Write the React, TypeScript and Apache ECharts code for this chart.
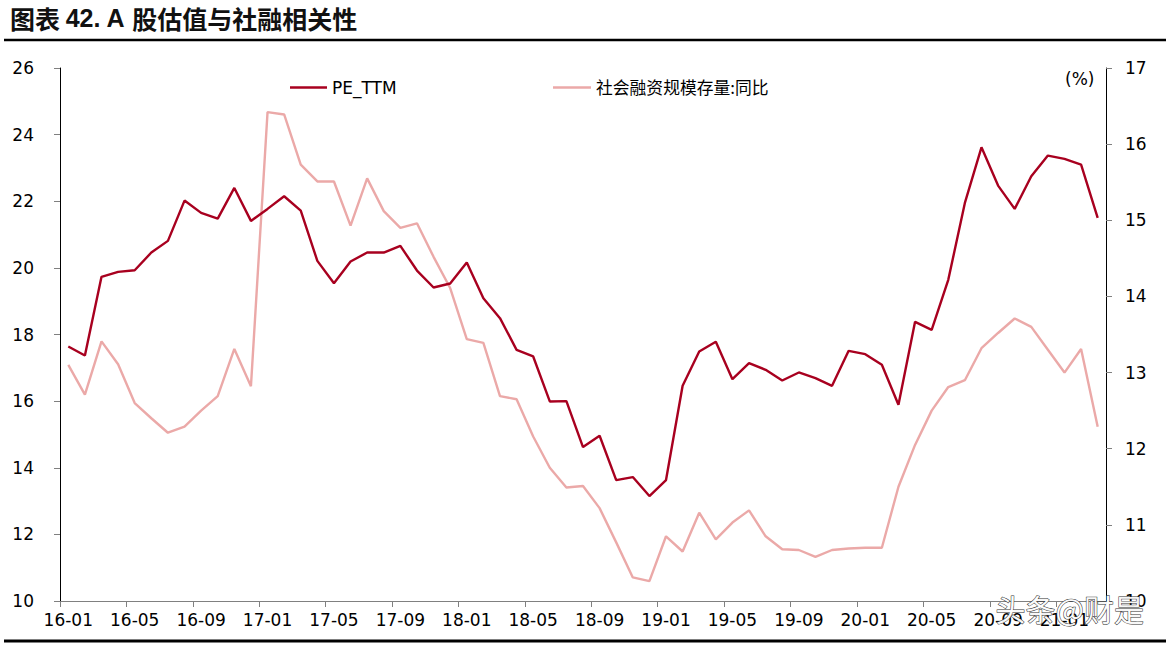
import React, { useEffect, useRef } from "react";
import * as echarts from "echarts";

const months = [
  "16-01","16-02","16-03","16-04","16-05","16-06","16-07","16-08","16-09","16-10","16-11","16-12",
  "17-01","17-02","17-03","17-04","17-05","17-06","17-07","17-08","17-09","17-10","17-11","17-12",
  "18-01","18-02","18-03","18-04","18-05","18-06","18-07","18-08","18-09","18-10","18-11","18-12",
  "19-01","19-02","19-03","19-04","19-05","19-06","19-07","19-08","19-09","19-10","19-11","19-12",
  "20-01","20-02","20-03","20-04","20-05","20-06","20-07","20-08","20-09","20-10","20-11","20-12",
  "21-01","21-02","21-03",
];

const peTTM = [
  17.64, 17.37, 19.73, 19.88, 19.93, 20.46, 20.81, 22.02, 21.65, 21.48, 22.40, 21.41,
  21.77, 22.15, 21.72, 20.21, 19.54, 20.19, 20.46, 20.46, 20.66, 19.92, 19.41, 19.53,
  20.16, 19.09, 18.49, 17.54, 17.34, 15.99, 16.00, 14.62, 14.96, 13.63, 13.72, 13.15,
  13.63, 16.46, 17.49, 17.78, 16.66, 17.14, 16.94, 16.62, 16.86, 16.69, 16.46, 17.51,
  17.41, 17.09, 15.89, 18.38, 18.14, 19.64, 21.95, 23.62, 22.47, 21.77, 22.75, 23.37,
  23.27, 23.10, 21.50,
];

const socialFinancingYoY = [
  13.10, 12.71, 13.41, 13.11, 12.60, 12.40, 12.21, 12.29, 12.50, 12.69, 13.31, 12.82,
  16.42, 16.39, 15.73, 15.51, 15.51, 14.93, 15.55, 15.12, 14.90, 14.96, 14.52, 14.11,
  13.44, 13.39, 12.69, 12.65, 12.16, 11.75, 11.49, 11.51, 11.22, 10.77, 10.31, 10.26,
  10.85, 10.65, 11.16, 10.81, 11.03, 11.19, 10.85, 10.68, 10.67, 10.58, 10.67, 10.69,
  10.70, 10.70, 11.50, 12.05, 12.50, 12.81, 12.90, 13.32, 13.52, 13.71, 13.60, 13.30,
  13.00, 13.31, 12.29,
];

const seriesNames = ["PE_TTM", "社会融资规模存量:同比"];
const watermark = "头条@财是";

const FONT = "'DejaVu Sans', 'Noto Sans CJK SC', sans-serif";
const RED = "#A8001F";
const PINK = "#EBA9A8";

export default function App() {
  const ref = useRef<HTMLDivElement>(null);

  useEffect(() => {
    if (!ref.current) return;
    const chart = echarts.init(ref.current, null, { renderer: "svg" });
    chart.setOption({
      animation: false,
      backgroundColor: "#ffffff",
      textStyle: { fontFamily: FONT },
      grid: { left: 60, right: 63, top: 68, bottom: 44, containLabel: false },
      legend: [
        {
          data: [seriesNames[0]],
          left: 285,
          top: 74,
          icon: "rect",
          itemWidth: 37,
          itemHeight: 2.5,
          textStyle: { fontSize: 17, color: "#000", fontFamily: FONT },
        },
        {
          data: [seriesNames[1]],
          left: 548,
          top: 74,
          icon: "rect",
          itemWidth: 38,
          itemHeight: 2.5,
          textStyle: { fontSize: 16.8, color: "#000", fontFamily: "'Noto Sans CJK SC', sans-serif" },
        },
      ],
      xAxis: {
        type: "category",
        data: months,
        boundaryGap: true,
        axisLine: { lineStyle: { color: "#808080", width: 1.2 } },
        axisTick: { show: true, interval: 3, length: 6, lineStyle: { color: "#808080" } },
        axisLabel: { interval: 3, fontSize: 17, color: "#000", margin: 10, fontFamily: FONT },
        splitLine: { show: false },
      },
      yAxis: [
        {
          type: "value",
          min: 10,
          max: 26,
          interval: 2,
          position: "left",
          axisLine: { show: true, lineStyle: { color: "#000", width: 1 } },
          axisTick: { show: true, length: 6, lineStyle: { color: "#808080" } },
          axisLabel: { fontSize: 17, color: "#000", margin: 26, fontFamily: FONT },
          splitLine: { show: false },
        },
        {
          type: "value",
          min: 10,
          max: 17,
          interval: 1,
          position: "right",
          axisLine: { show: true, lineStyle: { color: "#000", width: 1 } },
          axisTick: { show: true, length: 6, lineStyle: { color: "#808080" } },
          axisLabel: { fontSize: 17, color: "#000", margin: 19, fontFamily: FONT },
          splitLine: { show: false },
        },
      ],
      series: [
        {
          name: seriesNames[0],
          type: "line",
          yAxisIndex: 0,
          data: peTTM,
          symbol: "none",
          lineStyle: { color: RED, width: 2.4 },
          itemStyle: { color: RED },
          z: 3,
        },
        {
          name: seriesNames[1],
          type: "line",
          yAxisIndex: 1,
          data: socialFinancingYoY,
          symbol: "none",
          lineStyle: { color: PINK, width: 2.4 },
          itemStyle: { color: PINK },
          z: 2,
        },
      ],
      graphic: [
        {
          type: "text",
          left: 10,
          top: 5,
          style: {
            text: "{c|图表 }{n|42. A }{c|股估值与社融相关性}",
            rich: {
              c: { fontSize: 25, fontWeight: "bold", fontFamily: "'Noto Sans CJK SC', sans-serif", fill: "#111" },
              n: { fontSize: 25, fontWeight: "bold", fontFamily: "'Liberation Sans Narrow', 'Liberation Sans', sans-serif", fill: "#111" },
            },
          },
        },
        {
          type: "line",
          shape: { x1: 4, y1: 40, x2: 1166, y2: 40 },
          style: { stroke: "#000", lineWidth: 2.5 },
        },
        {
          type: "line",
          shape: { x1: 4, y1: 641, x2: 1166, y2: 641 },
          style: { stroke: "#000", lineWidth: 3 },
        },
        {
          type: "text",
          left: 1065,
          top: 70,
          style: { text: "(%)", fontSize: 17, fill: "#000", fontFamily: FONT },
        },
        {
          type: "text",
          left: 995,
          top: 592,
          z: 100,
          style: {
            text: watermark,
            fontSize: 30,
            fontFamily: "'Noto Sans CJK SC', sans-serif",
            fill: "rgba(255,255,255,0.95)",
            stroke: "#333",
            lineWidth: 1,
          },
        },
      ],
    });
    return () => chart.dispose();
  }, []);

  return (
    <div
      ref={ref}
      style={{ position: "fixed", left: 0, top: 0, width: 1169, height: 645, background: "#fff" }}
    />
  );
}
